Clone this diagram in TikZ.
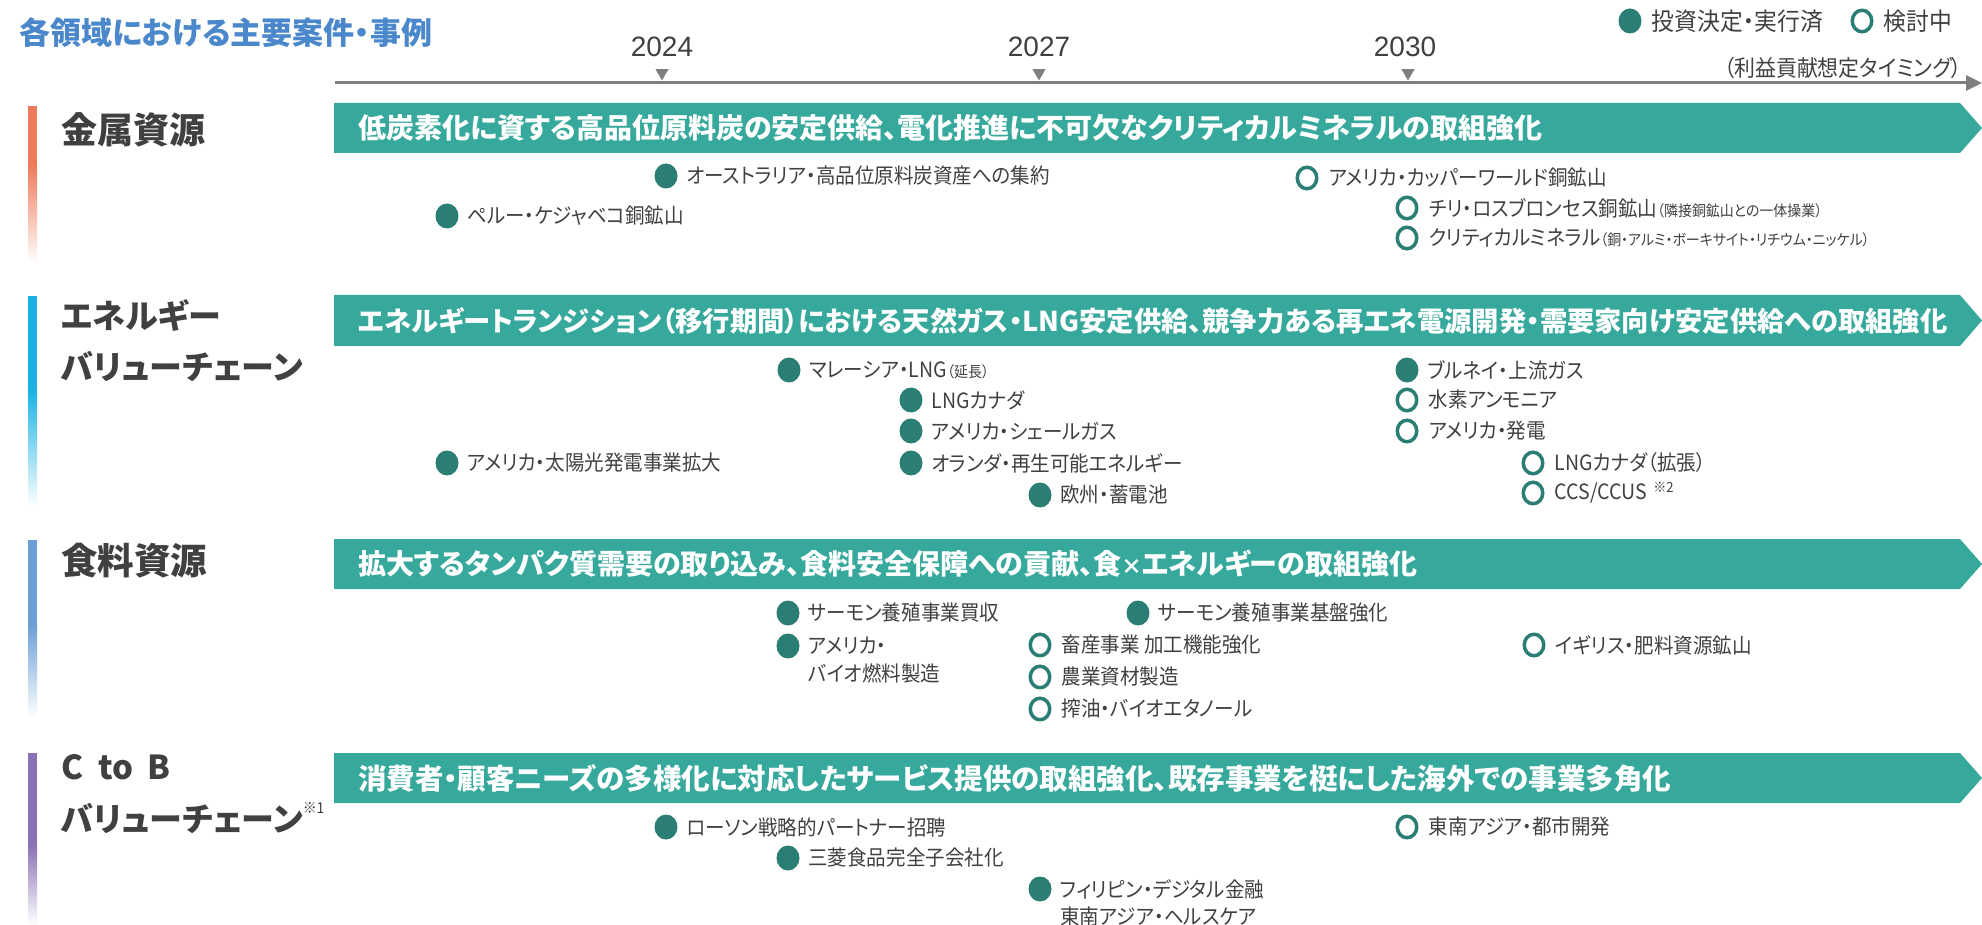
\documentclass[tikz,border=0pt]{standalone}
\usepackage{fontspec}
\usetikzlibrary{shapes.geometric,arrows.meta}
\newfontfamily\jpf[RawFeature={+palt}]{Noto Sans CJK JP}
\newfontfamily\jpn[FakeStretch=0.93,RawFeature={+palt}]{Noto Sans CJK JP}
\newfontfamily\numf{Liberation Sans}
\definecolor{bannerc}{HTML}{36A99C}
\definecolor{dotc}{HTML}{2A7E74}
\definecolor{txtgray}{HTML}{404040}
\definecolor{lgray}{HTML}{7F7F7F}
\definecolor{titleblue}{HTML}{4A88CB}
\definecolor{metalc}{HTML}{EF7A5A}
\definecolor{energyc}{HTML}{1BB1E4}
\definecolor{foodc}{HTML}{6C9FD6}
\definecolor{ctobc}{HTML}{8872B5}
\tikzset{
  bannertxt/.style={anchor=west, inner sep=0pt, text=white, font=\jpf\bfseries\fontsize{28}{30}\selectfont},
  cat/.style={anchor=west, inner sep=0pt, text=txtgray, font=\jpf\bfseries\fontsize{33}{40}\selectfont},
  fdot/.style={ellipse, fill=dotc, minimum width=23pt, minimum height=25pt, inner sep=0pt},
  odot/.style={ellipse, draw=dotc, line width=3.5pt, fill=white, minimum width=19.5pt, minimum height=21.5pt, inner sep=0pt},
  itxt/.style={anchor=west, inner sep=0pt, text=txtgray, font=\jpn\fontsize{21}{26}\selectfont},
  legtxt/.style={itxt, font=\jpn\fontsize{24.5}{28}\selectfont},
  yr/.style={inner sep=0pt, text=txtgray, font=\numf\fontsize{28}{32}\selectfont},
  tri/.style={regular polygon, regular polygon sides=3, shape border rotate=180, fill=lgray, minimum size=15pt, inner sep=0pt},
}
\newcommand\smallpar[1]{{\fontsize{15}{20}\selectfont #1}}
\begin{document}
\begin{tikzpicture}[x=1pt,y=-1pt]
\useasboundingbox (0,0) rectangle (1982,925);
% title
\node[anchor=west, inner sep=0pt, text=titleblue, font=\jpf\bfseries\fontsize{31}{34}\selectfont] (title) at (19,33) {各領域における主要案件・事例};
% legend
\node[fdot] (lg1) at (1630,21) {};
\node[legtxt] (lg1t) at ([xshift=10pt]lg1.east) {投資決定・実行済};
\node[odot] (lg2) at (1862,21) {};
\node[legtxt] (lg2t) at ([xshift=10pt]lg2.east) {検討中};
% years
\node[yr] (y24) at (662,47) {2024};
\node[yr] (y27) at (1039,47) {2027};
\node[yr] (y30) at (1405,47) {2030};
\node[tri] (t24) at (662,73) {};
\node[tri] (t27) at (1039,73) {};
\node[tri] (t30) at (1408,73) {};
\node[itxt, anchor=east, font=\jpn\fontsize{22.5}{26}\selectfont] (timing) at (1962,68) {（利益貢献想定タイミング）};
% timeline
\coordinate (tl0) at (335,83);
\coordinate (tl1) at (1982,83);
\draw[line width=3pt, lgray, -{Triangle[length=16pt,width=15pt]}] (tl0) -- (tl1);
% side bars
\fill[metalc] (28,106) rectangle (37,165);
\shade[top color=metalc, bottom color=white] (28,165) rectangle (37,263);
\fill[energyc] (28,296) rectangle (37,390);
\shade[top color=energyc, bottom color=white] (28,390) rectangle (37,507);
\fill[foodc] (28,540) rectangle (37,625);
\shade[top color=foodc, bottom color=white] (28,625) rectangle (37,718);
\fill[ctobc] (28,753) rectangle (37,845);
\shade[top color=ctobc, bottom color=white] (28,845) rectangle (37,925);
% category labels
\node[cat, font=\jpf\bfseries\fontsize{36}{40}\selectfont] (c1) at (61,130) {金属資源};
\node[cat] (c2a) at (61,315) {エネルギー};
\node[cat] (c2b) at (61,366) {バリューチェーン};
\node[cat, font=\jpf\bfseries\fontsize{36.5}{40}\selectfont] (c3) at (61,561) {食料資源};
\node[cat] (c4a) at (61,767) {C\hspace{0.45em}to\hspace{0.45em}B};
\node[cat] (c4b) at (61,818) {バリューチェーン\raisebox{0.55em}{\jpn\mdseries\fontsize{15}{16}\selectfont ※1}};
% banners
\fill[bannerc] (334,103) -- (1960,103) -- (1982,128) -- (1960,153) -- (334,153) -- cycle;
\node[bannertxt] (b1) at (358,128) {低炭素化に資する高品位原料炭の安定供給、電化推進に不可欠なクリティカルミネラルの取組強化};
\fill[bannerc] (334,295) -- (1960,295) -- (1982,320.5) -- (1960,346) -- (334,346) -- cycle;
\node[bannertxt, font=\jpf\bfseries\fontsize{27.3}{30}\selectfont] (b2) at (358,320.5) {エネルギートランジション（移行期間）における天然ガス・LNG安定供給、競争力ある再エネ電源開発・需要家向け安定供給への取組強化};
\fill[bannerc] (334,539) -- (1960,539) -- (1982,564) -- (1960,589) -- (334,589) -- cycle;
\node[bannertxt] (b3) at (358,564) {拡大するタンパク質需要の取り込み、食料安全保障への貢献、食{\fontsize{21}{21}\selectfont ×}エネルギーの取組強化};
\fill[bannerc] (334,753) -- (1960,753) -- (1982,778) -- (1960,803) -- (334,803) -- cycle;
\node[bannertxt, font=\jpf\bfseries\fontsize{28.5}{30}\selectfont] (b4) at (358,778) {消費者・顧客ニーズの多様化に対応したサービス提供の取組強化、既存事業を梃にした海外での事業多角化};
% metal items
\node[fdot] (m1) at (666,176) {};
\node[itxt] (m1t) at ([xshift=8.5pt]m1.east) {オーストラリア・高品位原料炭資産への集約};
\node[fdot] (m2) at (447,216) {};
\node[itxt] (m2t) at ([xshift=8.5pt]m2.east) {ペルー・ケジャベコ銅鉱山};
\node[odot] (m3) at (1307,178) {};
\node[itxt] (m3t) at ([xshift=10pt]m3.east) {アメリカ・カッパーワールド銅鉱山};
\node[odot] (m4) at (1407,208) {};
\node[itxt] (m4t) at ([xshift=10pt]m4.east) {チリ・ロスブロンセス銅鉱山\smallpar{（隣接銅鉱山との一体操業）}};
\node[odot] (m5) at (1407,238) {};
\node[itxt] (m5t) at ([xshift=10pt]m5.east) {クリティカルミネラル\smallpar{（銅・アルミ・ボーキサイト・リチウム・ニッケル）}};
% energy items
\node[fdot] (e1) at (789,370) {};
\node[itxt] (e1t) at ([xshift=8.5pt]e1.east) {マレーシア・LNG\smallpar{（延長）}};
\node[fdot] (e2) at (911,400) {};
\node[itxt] (e2t) at ([xshift=8.5pt]e2.east) {LNGカナダ};
\node[fdot] (e3) at (911,431) {};
\node[itxt] (e3t) at ([xshift=8.5pt]e3.east) {アメリカ・シェールガス};
\node[fdot] (e4) at (911,463) {};
\node[itxt] (e4t) at ([xshift=8.5pt]e4.east) {オランダ・再生可能エネルギー};
\node[fdot] (e5) at (1040,495) {};
\node[itxt] (e5t) at ([xshift=8.5pt]e5.east) {欧州・蓄電池};
\node[fdot] (e6) at (447,463) {};
\node[itxt] (e6t) at ([xshift=8.5pt]e6.east) {アメリカ・太陽光発電事業拡大};
\node[fdot] (e7) at (1407,370) {};
\node[itxt] (e7t) at ([xshift=8.5pt]e7.east) {ブルネイ・上流ガス};
\node[odot] (e8) at (1407,400) {};
\node[itxt] (e8t) at ([xshift=10pt]e8.east) {水素アンモニア};
\node[odot] (e9) at (1407,431) {};
\node[itxt] (e9t) at ([xshift=10pt]e9.east) {アメリカ・発電};
\node[odot] (e10) at (1533,463) {};
\node[itxt] (e10t) at ([xshift=10pt]e10.east) {LNGカナダ（拡張）};
\node[odot] (e11) at (1533,493) {};
\node[itxt] (e11t) at ([xshift=10pt]e11.east) {CCS/CCUS\hspace{0.3em}\raisebox{0.35em}{\fontsize{14}{16}\selectfont ※2}};
% food items
\node[fdot] (f1) at (788,613) {};
\node[itxt] (f1t) at ([xshift=8.5pt]f1.east) {サーモン養殖事業買収};
\node[fdot] (f2) at (788,646) {};
\node[itxt] (f2t) at ([xshift=8.5pt]f2.east) {アメリカ・};
\node[itxt] (f2u) at ([yshift=-27pt]f2t.west) {バイオ燃料製造};
\node[fdot] (f3) at (1138,613) {};
\node[itxt] (f3t) at ([xshift=8.5pt]f3.east) {サーモン養殖事業基盤強化};
\node[odot] (f4) at (1040,645) {};
\node[itxt] (f4t) at ([xshift=10pt]f4.east) {畜産事業 加工機能強化};
\node[odot] (f5) at (1040,677) {};
\node[itxt] (f5t) at ([xshift=10pt]f5.east) {農業資材製造};
\node[odot] (f6) at (1040,709) {};
\node[itxt] (f6t) at ([xshift=10pt]f6.east) {搾油・バイオエタノール};
\node[odot] (f7) at (1534,645) {};
\node[itxt] (f7t) at ([xshift=10pt]f7.east) {イギリス・肥料資源鉱山};
% C to B items
\node[fdot] (k1) at (666,827) {};
\node[itxt] (k1t) at ([xshift=8.5pt]k1.east) {ローソン戦略的パートナー招聘};
\node[fdot] (k2) at (788,858) {};
\node[itxt] (k2t) at ([xshift=8.5pt]k2.east) {三菱食品完全子会社化};
\node[fdot] (k3) at (1040,889) {};
\node[itxt] (k3t) at ([xshift=8.5pt]k3.east) {フィリピン・デジタル金融};
\node[itxt] (k3u) at ([yshift=-28pt]k3t.west) {東南アジア・ヘルスケア};
\node[odot] (k4) at (1407,827) {};
\node[itxt] (k4t) at ([xshift=10pt]k4.east) {東南アジア・都市開発};
\end{tikzpicture}
\end{document}
